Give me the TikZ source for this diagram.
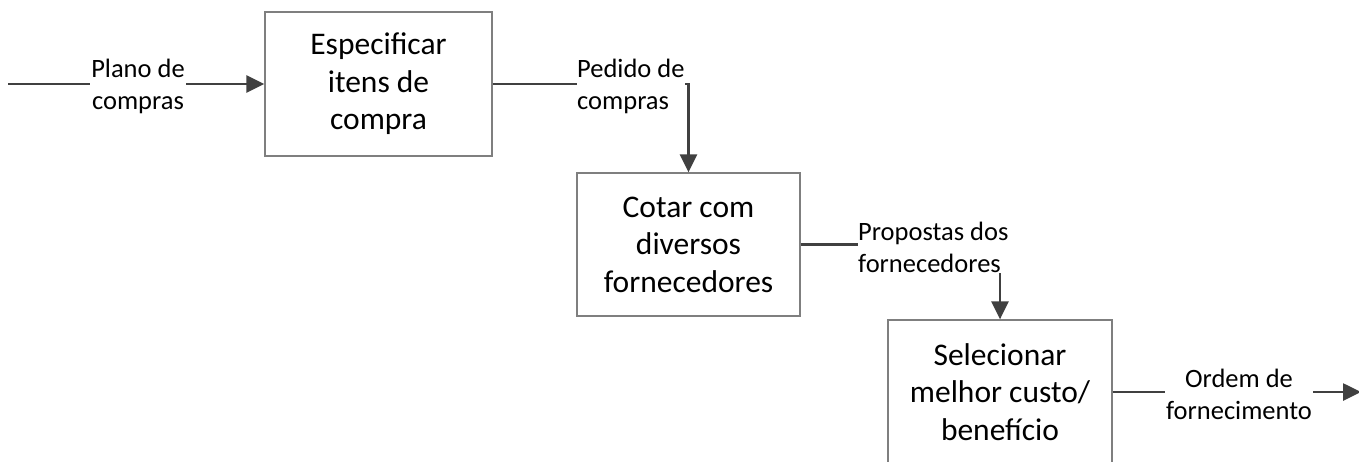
\documentclass[tikz,border=0pt]{standalone}
\usepackage{fontspec}
\setmainfont{Carlito}
\usetikzlibrary{arrows.meta}
\definecolor{linec}{HTML}{404040}
\definecolor{boxc}{HTML}{7F7F7F}
\begin{document}
\begin{tikzpicture}[x=1pt,y=-1pt,
  procbox/.style={draw=boxc,line width=1.3pt,fill=white,align=center,inner sep=0pt,
    font=\fontsize{31.5}{37.5}\selectfont},
  flowlabel/.style={fill=white,align=center,inner sep=1pt,
    font=\fontsize{26.5}{32}\selectfont},
  leftlabel/.style={flowlabel,align=left,anchor=west,inner xsep=0pt},
  conn/.style={draw=linec,line width=2.6pt},
  arr/.style={conn,-{Triangle[length=18pt,width=17pt]}}]
\useasboundingbox (0,0) rectangle (1359,461);
\node[procbox,minimum width=227pt,minimum height=144pt] (b1) at (378.5,84) {Especificar\\itens de\\compra};
\node[procbox,minimum width=223pt,minimum height=143pt] (b2) at (688.5,244.5) {Cotar com\\diversos\\fornecedores};
\node[procbox,minimum width=224pt,minimum height=144pt] (b3) at (1000,392) {Selecionar\\melhor custo/\\benefício};
\coordinate (in) at (8,84);
\coordinate (out) at (1361,392);
\draw[arr] (in) -- (b1.west);
\draw[arr] (b1.east) -| (b2.north);
\draw[arr] (b2.east) -| (b3.north);
\draw[arr] (b3.east) -- (out);
\node[flowlabel] (l1) at (138,86) {Plano de\\compras};
\node[leftlabel] (l2) at (577,86) {Pedido de\\compras};
\node[leftlabel] (l3) at (858,247) {Propostas dos\\fornecedores};
\node[flowlabel] (l4) at (1239,394) {Ordem de\\fornecimento};
\end{tikzpicture}
\end{document}
